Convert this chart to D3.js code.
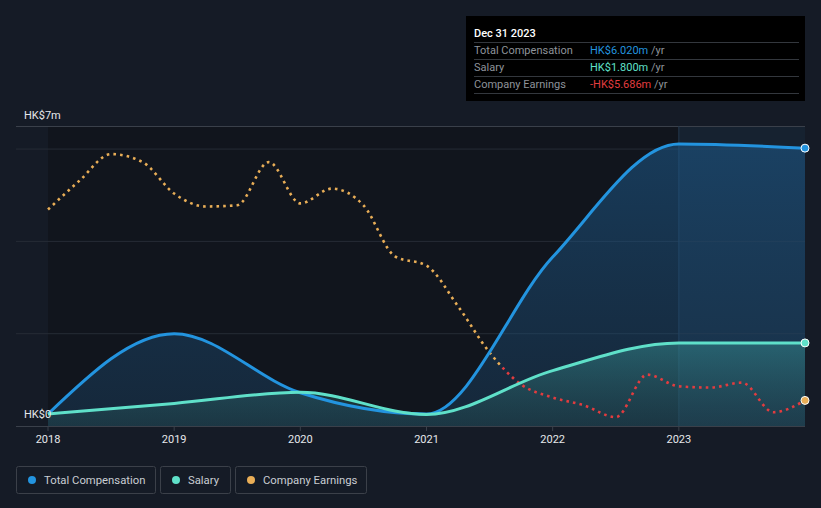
<!DOCTYPE html>
<html>
<head>
<meta charset="utf-8">
<script src="https://cdn.jsdelivr.net/npm/d3@7"></script>
<style>
  html, body { margin: 0; padding: 0; background: #151b26; }
  body { width: 821px; height: 508px; overflow: hidden; font-family: Roboto, "Noto Sans", sans-serif; }
</style>
</head>
<body>
<div id="chart"></div>
<script>
// years as decimal dates
const compYears = [2018, 2019, 2020, 2021, 2022, 2023, 2024];
const totalComp = [0.26, 2.0, 0.72, 0.26, 3.66, 6.11, 6.02];
const salary = [0.26, 0.49, 0.73, 0.25, 1.2, 1.8, 1.8];

const earnYears = [2018, 2018.25, 2018.5, 2018.75, 2019, 2019.25, 2019.5, 2019.75,
  2020, 2020.25, 2020.5, 2020.75, 2021, 2021.25, 2021.5, 2021.75,
  2022, 2022.25, 2022.5, 2022.75, 2023, 2023.25, 2023.5, 2023.75, 2024];
const earnings = [25.3, 30.0, 34.3, 33.0, 27.9, 25.8, 26.0, 33.0,
  26.3, 28.7, 26.0, 17.7, 16.2, 9.6, 2.1, -3.1,
  -5.2, -6.5, -8.4, -1.5, -3.4, -3.6, -2.8, -7.6, -5.686];

const tickYears = [2018, 2019, 2020, 2021, 2022, 2023];
const yLabels = ["HK$0", "HK$7m"];

const width = 821, height = 508;

const svg = d3.select("#chart").append("svg")
  .attr("width", width).attr("height", height);

const x = d3.scaleLinear().domain([2018, 2024]).range([48, 805]);
const y = d3.scaleLinear().domain([0, 6.5]).range([426, 126]);
const yE = d3.scaleLinear().domain([-10, 40]).range([427, 119]);

const defs = svg.append("defs");
const gBlue = defs.append("linearGradient").attr("id", "gBlue").attr("x1", 0).attr("x2", 0).attr("y1", 0).attr("y2", 1);
gBlue.append("stop").attr("offset", "0%").attr("stop-color", "#1d5a8c").attr("stop-opacity", 0.55);
gBlue.append("stop").attr("offset", "100%").attr("stop-color", "#1d4a70").attr("stop-opacity", 0.35);
const gTeal = defs.append("linearGradient").attr("id", "gTeal").attr("x1", 0).attr("x2", 0).attr("y1", 0).attr("y2", 1);
gTeal.append("stop").attr("offset", "0%").attr("stop-color", "#3a9a9a").attr("stop-opacity", 0.45);
gTeal.append("stop").attr("offset", "100%").attr("stop-color", "#2a5a5a").attr("stop-opacity", 0.3);

// plot background
svg.append("rect").attr("x", 48).attr("y", 126).attr("width", 757).attr("height", 300).attr("fill", "#11151d");

// highlight last year band
svg.append("rect").attr("x", x(2023)).attr("y", 126).attr("width", x(2024) - x(2023)).attr("height", 300)
  .attr("fill", "#1b2d40").attr("opacity", 0.55);

// gridlines
const grid = [2, 4, 6];
svg.selectAll(".grid").data(grid).enter().append("line")
  .attr("x1", 16).attr("x2", 805)
  .attr("y1", d => y(d)).attr("y2", d => y(d))
  .attr("stroke", "#262c36").attr("stroke-width", 1);
svg.append("line").attr("x1", 16).attr("x2", 805).attr("y1", 126.5).attr("y2", 126.5)
  .attr("stroke", "#3a404a").attr("stroke-width", 1);

svg.append("line").attr("x1", x(2023)).attr("x2", x(2023)).attr("y1", 126).attr("y2", 426)
  .attr("stroke", "#24384c").attr("stroke-width", 1);

const compPts = compYears.map((d, i) => [d, totalComp[i]]);
const salPts = compYears.map((d, i) => [d, salary[i]]);

const area = d3.area().x(d => x(d[0])).y0(y(0)).y1(d => y(d[1])).curve(d3.curveMonotoneX);
const line = d3.line().x(d => x(d[0])).y(d => y(d[1])).curve(d3.curveMonotoneX);

svg.append("path").datum(compPts).attr("d", area).attr("fill", "url(#gBlue)");
svg.append("path").datum(salPts).attr("d", area).attr("fill", "url(#gTeal)");

// earnings, orange above zero, red below
const earnPts = earnYears.map((d, i) => [d, earnings[i]]);
const eLine = d3.line().x(d => x(d[0])).y(d => yE(d[1])).curve(d3.curveMonotoneX);
const zeroY = yE(0);
defs.append("clipPath").attr("id", "above").append("rect").attr("x", 0).attr("y", 0).attr("width", width).attr("height", zeroY);
defs.append("clipPath").attr("id", "below").append("rect").attr("x", 0).attr("y", zeroY).attr("width", width).attr("height", height - zeroY);

svg.append("path").datum(earnPts).attr("d", eLine).attr("fill", "none")
  .attr("stroke", "#e9ae57").attr("stroke-width", 2.6).attr("stroke-dasharray", "2.6 4.1")
  .attr("clip-path", "url(#above)");
svg.append("path").datum(earnPts).attr("d", eLine).attr("fill", "none")
  .attr("stroke", "#e23c3f").attr("stroke-width", 2.6).attr("stroke-dasharray", "2.6 4.1")
  .attr("clip-path", "url(#below)");

svg.append("path").datum(compPts).attr("d", line).attr("fill", "none")
  .attr("stroke", "#2394df").attr("stroke-width", 3);
svg.append("path").datum(salPts).attr("d", line).attr("fill", "none")
  .attr("stroke", "#5fe0c9").attr("stroke-width", 3);

// axis
svg.append("line").attr("x1", 16).attr("x2", 805).attr("y1", 426.5).attr("y2", 426.5)
  .attr("stroke", "#3a404a").attr("stroke-width", 1);
svg.selectAll(".tick").data(tickYears).enter().append("line")
  .attr("x1", d => x(d)).attr("x2", d => x(d)).attr("y1", 426).attr("y2", 431)
  .attr("stroke", "#3a404a");
svg.selectAll(".tickLabel").data(tickYears).enter().append("text")
  .attr("x", d => x(d)).attr("y", 443).attr("text-anchor", "middle")
  .attr("fill", "#e6e8eb").style("font-size", "11px").text(d => d);

svg.append("text").attr("x", 24).attr("y", 418).attr("fill", "#e6e8eb").style("font-size", "11px").text(yLabels[0]);
svg.append("text").attr("x", 24).attr("y", 119).attr("fill", "#e6e8eb").style("font-size", "11px").text(yLabels[1]);

// end dots
const ends = [
  { v: y(totalComp[totalComp.length - 1]), c: "#2394df" },
  { v: y(salary[salary.length - 1]), c: "#5fe0c9" },
  { v: yE(earnings[earnings.length - 1]), c: "#e9ae57" }
];
svg.selectAll(".end").data(ends).enter().append("circle")
  .attr("cx", x(2024)).attr("cy", d => d.v).attr("r", 4)
  .attr("fill", d => d.c).attr("stroke", "#ffffff").attr("stroke-width", 1);

// tooltip box
const tip = svg.append("g").attr("transform", "translate(466,16)");
tip.append("rect").attr("width", 339).attr("height", 85).attr("fill", "#000000");
tip.append("text").attr("x", 8).attr("y", 21).attr("fill", "#ffffff").style("font-size", "11px").style("font-weight", "500").text("Dec 31 2023");
const rows = [
  { label: "Total Compensation", value: "HK$6.020m", c: "#2394df" },
  { label: "Salary", value: "HK$1.800m", c: "#5fe0c9" },
  { label: "Company Earnings", value: "-HK$5.686m", c: "#e23c3f" }
];
[26.5, 43.5, 60.5, 77.5].forEach(yy => {
  tip.append("line").attr("x1", 8).attr("x2", 333).attr("y1", yy).attr("y2", yy).attr("stroke", "#33373d");
});
rows.forEach((r, i) => {
  const ty = 38 + i * 17;
  tip.append("text").attr("x", 8).attr("y", ty).attr("fill", "#8e939a").style("font-size", "11px").text(r.label);
  const t = tip.append("text").attr("x", 124).attr("y", ty).style("font-size", "11px");
  t.append("tspan").attr("fill", r.c).text(r.value);
  t.append("tspan").attr("fill", "#8e939a").text(" /yr");
});

// legend
const legend = [
  { label: "Total Compensation", c: "#2394df", x: 16, w: 139 },
  { label: "Salary", c: "#5fe0c9", x: 160, w: 70 },
  { label: "Company Earnings", c: "#e9ae57", x: 235, w: 131 }
];
const lg = svg.selectAll(".lg").data(legend).enter().append("g")
  .attr("transform", d => `translate(${d.x},466)`);
lg.append("rect").attr("x", 0.5).attr("y", 0.5).attr("width", d => d.w).attr("height", 27).attr("rx", 2)
  .attr("fill", "none").attr("stroke", "#3b4049");
lg.append("circle").attr("cx", 16).attr("cy", 14).attr("r", 4).attr("fill", d => d.c);
lg.append("text").attr("x", 28).attr("y", 18).attr("fill", "#c9cdd3").style("font-size", "11.3px").text(d => d.label);
</script>
</body>
</html>
